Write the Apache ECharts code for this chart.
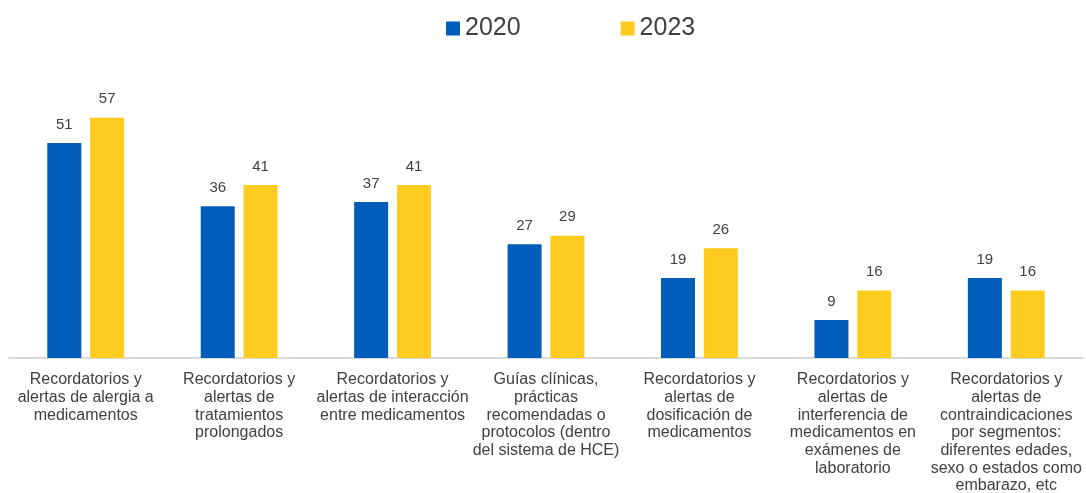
<!DOCTYPE html>
<html>
<head>
<meta charset="utf-8">
<script src="https://cdn.jsdelivr.net/npm/echarts@6/dist/echarts.min.js"></script>
<style>
  html, body { margin: 0; padding: 0; background: #ffffff; }
  #chart { width: 1086px; height: 493px; }
</style>
</head>
<body>
<div id="chart"></div>
<script>
// Categories of clinical decision-support functions
const categories = [
  'Recordatorios y\nalertas de alergia a\nmedicamentos',
  'Recordatorios y\nalertas de\ntratamientos\nprolongados',
  'Recordatorios y\nalertas de interacción\nentre medicamentos',
  'Guías clínicas,\nprácticas\nrecomendadas o\nprotocolos (dentro\ndel sistema de HCE)',
  'Recordatorios y\nalertas de\ndosificación de\nmedicamentos',
  'Recordatorios y\nalertas de\ninterferencia de\nmedicamentos en\nexámenes de\nlaboratorio',
  'Recordatorios y\nalertas de\ncontraindicaciones\npor segmentos:\ndiferentes edades,\nsexo o estados como\nembarazo, etc'
];

const values2020 = [51, 36, 37, 27, 19, 9, 19];
const values2023 = [57, 41, 41, 29, 26, 16, 16];

const seriesNames = ['2020', '2023'];
const colors = ['#005DB9', '#FFCB1F'];

const FONT = '"Liberation Sans", Arial, sans-serif';
const TEXT = '#404040';

const chart = echarts.init(document.getElementById('chart'), null, { renderer: 'canvas' });

const valueLabel = {
  show: true,
  position: 'top',
  distance: 11,
  color: TEXT,
  fontSize: 15,
  fontFamily: FONT
};

chart.setOption({
  animation: false,
  backgroundColor: '#ffffff',
  color: colors,
  legend: {
    data: seriesNames,
    left: 441,
    top: 11,
    icon: 'rect',
    itemWidth: 14,
    itemHeight: 14,
    itemGap: 100,
    textStyle: { color: TEXT, fontSize: 25, fontFamily: FONT }
  },
  grid: {
    left: 9, right: 3, top: 105, bottom: 135,
    containLabel: false,
    outerBoundsMode: 'none'
  },
  xAxis: {
    type: 'category',
    data: categories,
    axisLine: { show: true, lineStyle: { color: '#d9d9d9', width: 2 } },
    axisTick: { show: false },
    axisLabel: {
      interval: 0,
      margin: 13,
      color: TEXT,
      fontSize: 16,
      lineHeight: 17.7,
      fontFamily: FONT,
      align: 'center'
    }
  },
  yAxis: {
    type: 'value',
    min: 0,
    max: 60,
    show: false,
    splitLine: { show: false }
  },
  series: [
    {
      name: seriesNames[0],
      type: 'bar',
      data: values2020,
      barWidth: 34,
      barGap: '26%',
      label: valueLabel
    },
    {
      name: seriesNames[1],
      type: 'bar',
      data: values2023,
      barWidth: 34,
      barGap: '26%',
      label: valueLabel
    }
  ]
});
</script>
</body>
</html>
